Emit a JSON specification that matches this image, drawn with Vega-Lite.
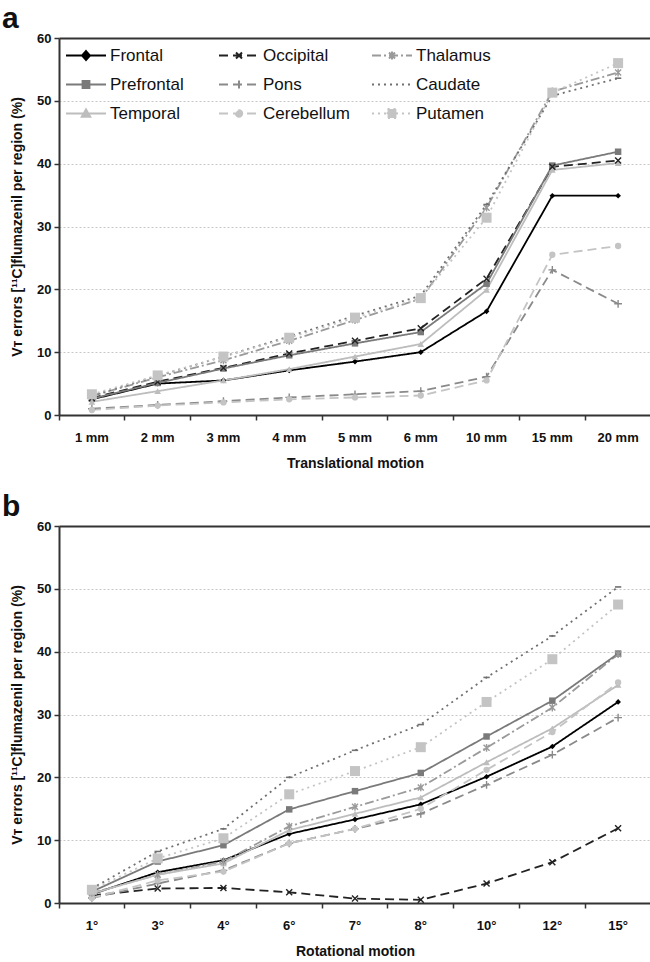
{
  "$schema": "https://vega.github.io/schema/vega-lite/v6.json",
  "padding": {"left": 2, "top": 4, "right": 0, "bottom": 0},
  "config": {
    "view": {"stroke": null},
    "font": "Liberation Sans",
    "axis": {
      "labelFont": "Liberation Sans", "labelFontWeight": "bold", "labelFontSize": 13, "labelColor": "#111",
      "titleFont": "Liberation Sans", "titleFontWeight": "bold", "titleFontSize": 14, "titleColor": "#111",
      "domainColor": "#333", "domainWidth": 2, "tickColor": "#333", "tickWidth": 1.5, "tickSize": 5
    },
    "legend": {"labelFont": "Liberation Sans", "labelFontSize": 17, "labelColor": "#111"}
  },
  "datasets": {
    "trans": [
      {"motion":"1 mm","region":"Frontal","value":2.5},{"motion":"2 mm","region":"Frontal","value":5.0},{"motion":"3 mm","region":"Frontal","value":5.5},{"motion":"4 mm","region":"Frontal","value":7.1},{"motion":"5 mm","region":"Frontal","value":8.5},{"motion":"6 mm","region":"Frontal","value":10.0},{"motion":"10 mm","region":"Frontal","value":16.5},{"motion":"15 mm","region":"Frontal","value":34.9},{"motion":"20 mm","region":"Frontal","value":34.9},
      {"motion":"1 mm","region":"Occipital","value":2.7},{"motion":"2 mm","region":"Occipital","value":5.3},{"motion":"3 mm","region":"Occipital","value":7.5},{"motion":"4 mm","region":"Occipital","value":9.8},{"motion":"5 mm","region":"Occipital","value":11.8},{"motion":"6 mm","region":"Occipital","value":13.8},{"motion":"10 mm","region":"Occipital","value":21.7},{"motion":"15 mm","region":"Occipital","value":39.5},{"motion":"20 mm","region":"Occipital","value":40.5},
      {"motion":"1 mm","region":"Thalamus","value":3.0},{"motion":"2 mm","region":"Thalamus","value":6.0},{"motion":"3 mm","region":"Thalamus","value":8.7},{"motion":"4 mm","region":"Thalamus","value":11.8},{"motion":"5 mm","region":"Thalamus","value":15.1},{"motion":"6 mm","region":"Thalamus","value":18.5},{"motion":"10 mm","region":"Thalamus","value":33.0},{"motion":"15 mm","region":"Thalamus","value":51.5},{"motion":"20 mm","region":"Thalamus","value":54.5},
      {"motion":"1 mm","region":"Prefrontal","value":2.6},{"motion":"2 mm","region":"Prefrontal","value":5.1},{"motion":"3 mm","region":"Prefrontal","value":7.4},{"motion":"4 mm","region":"Prefrontal","value":9.5},{"motion":"5 mm","region":"Prefrontal","value":11.4},{"motion":"6 mm","region":"Prefrontal","value":13.2},{"motion":"10 mm","region":"Prefrontal","value":20.9},{"motion":"15 mm","region":"Prefrontal","value":39.7},{"motion":"20 mm","region":"Prefrontal","value":41.9},
      {"motion":"1 mm","region":"Pons","value":1.0},{"motion":"2 mm","region":"Pons","value":1.6},{"motion":"3 mm","region":"Pons","value":2.2},{"motion":"4 mm","region":"Pons","value":2.8},{"motion":"5 mm","region":"Pons","value":3.3},{"motion":"6 mm","region":"Pons","value":3.8},{"motion":"10 mm","region":"Pons","value":6.1},{"motion":"15 mm","region":"Pons","value":23.1},{"motion":"20 mm","region":"Pons","value":17.7},
      {"motion":"1 mm","region":"Caudate","value":3.1},{"motion":"2 mm","region":"Caudate","value":6.2},{"motion":"3 mm","region":"Caudate","value":9.3},{"motion":"4 mm","region":"Caudate","value":12.5},{"motion":"5 mm","region":"Caudate","value":15.8},{"motion":"6 mm","region":"Caudate","value":19.0},{"motion":"10 mm","region":"Caudate","value":33.5},{"motion":"15 mm","region":"Caudate","value":50.8},{"motion":"20 mm","region":"Caudate","value":53.6},
      {"motion":"1 mm","region":"Temporal","value":2.1},{"motion":"2 mm","region":"Temporal","value":3.8},{"motion":"3 mm","region":"Temporal","value":5.5},{"motion":"4 mm","region":"Temporal","value":7.3},{"motion":"5 mm","region":"Temporal","value":9.3},{"motion":"6 mm","region":"Temporal","value":11.3},{"motion":"10 mm","region":"Temporal","value":19.9},{"motion":"15 mm","region":"Temporal","value":39.0},{"motion":"20 mm","region":"Temporal","value":40.1},
      {"motion":"1 mm","region":"Cerebellum","value":0.8},{"motion":"2 mm","region":"Cerebellum","value":1.5},{"motion":"3 mm","region":"Cerebellum","value":2.0},{"motion":"4 mm","region":"Cerebellum","value":2.5},{"motion":"5 mm","region":"Cerebellum","value":2.8},{"motion":"6 mm","region":"Cerebellum","value":3.1},{"motion":"10 mm","region":"Cerebellum","value":5.5},{"motion":"15 mm","region":"Cerebellum","value":25.5},{"motion":"20 mm","region":"Cerebellum","value":26.9},
      {"motion":"1 mm","region":"Putamen","value":3.3},{"motion":"2 mm","region":"Putamen","value":6.3},{"motion":"3 mm","region":"Putamen","value":9.3},{"motion":"4 mm","region":"Putamen","value":12.3},{"motion":"5 mm","region":"Putamen","value":15.5},{"motion":"6 mm","region":"Putamen","value":18.6},{"motion":"10 mm","region":"Putamen","value":31.4},{"motion":"15 mm","region":"Putamen","value":51.3},{"motion":"20 mm","region":"Putamen","value":56.0}
    ],
    "rot": [
      {"motion":"1°","region":"Frontal","value":1.4},{"motion":"3°","region":"Frontal","value":4.9},{"motion":"4°","region":"Frontal","value":6.8},{"motion":"6°","region":"Frontal","value":11.0},{"motion":"7°","region":"Frontal","value":13.3},{"motion":"8°","region":"Frontal","value":15.7},{"motion":"10°","region":"Frontal","value":20.1},{"motion":"12°","region":"Frontal","value":24.9},{"motion":"15°","region":"Frontal","value":32.0},
      {"motion":"1°","region":"Occipital","value":1.2},{"motion":"3°","region":"Occipital","value":2.3},{"motion":"4°","region":"Occipital","value":2.4},{"motion":"6°","region":"Occipital","value":1.7},{"motion":"7°","region":"Occipital","value":0.7},{"motion":"8°","region":"Occipital","value":0.5},{"motion":"10°","region":"Occipital","value":3.1},{"motion":"12°","region":"Occipital","value":6.5},{"motion":"15°","region":"Occipital","value":11.9},
      {"motion":"1°","region":"Thalamus","value":1.6},{"motion":"3°","region":"Thalamus","value":4.5},{"motion":"4°","region":"Thalamus","value":6.6},{"motion":"6°","region":"Thalamus","value":12.2},{"motion":"7°","region":"Thalamus","value":15.3},{"motion":"8°","region":"Thalamus","value":18.4},{"motion":"10°","region":"Thalamus","value":24.7},{"motion":"12°","region":"Thalamus","value":31.1},{"motion":"15°","region":"Thalamus","value":39.6},
      {"motion":"1°","region":"Prefrontal","value":1.8},{"motion":"3°","region":"Prefrontal","value":6.6},{"motion":"4°","region":"Prefrontal","value":9.2},{"motion":"6°","region":"Prefrontal","value":14.9},{"motion":"7°","region":"Prefrontal","value":17.8},{"motion":"8°","region":"Prefrontal","value":20.7},{"motion":"10°","region":"Prefrontal","value":26.5},{"motion":"12°","region":"Prefrontal","value":32.2},{"motion":"15°","region":"Prefrontal","value":39.7},
      {"motion":"1°","region":"Pons","value":0.8},{"motion":"3°","region":"Pons","value":3.1},{"motion":"4°","region":"Pons","value":5.2},{"motion":"6°","region":"Pons","value":9.5},{"motion":"7°","region":"Pons","value":11.8},{"motion":"8°","region":"Pons","value":14.2},{"motion":"10°","region":"Pons","value":18.8},{"motion":"12°","region":"Pons","value":23.6},{"motion":"15°","region":"Pons","value":29.5},
      {"motion":"1°","region":"Caudate","value":2.3},{"motion":"3°","region":"Caudate","value":8.2},{"motion":"4°","region":"Caudate","value":11.8},{"motion":"6°","region":"Caudate","value":20.0},{"motion":"7°","region":"Caudate","value":24.3},{"motion":"8°","region":"Caudate","value":28.4},{"motion":"10°","region":"Caudate","value":35.9},{"motion":"12°","region":"Caudate","value":42.5},{"motion":"15°","region":"Caudate","value":50.3},
      {"motion":"1°","region":"Temporal","value":1.5},{"motion":"3°","region":"Temporal","value":4.5},{"motion":"4°","region":"Temporal","value":6.3},{"motion":"6°","region":"Temporal","value":11.6},{"motion":"7°","region":"Temporal","value":14.2},{"motion":"8°","region":"Temporal","value":16.8},{"motion":"10°","region":"Temporal","value":22.4},{"motion":"12°","region":"Temporal","value":27.8},{"motion":"15°","region":"Temporal","value":34.7},
      {"motion":"1°","region":"Cerebellum","value":0.8},{"motion":"3°","region":"Cerebellum","value":3.6},{"motion":"4°","region":"Cerebellum","value":5.0},{"motion":"6°","region":"Cerebellum","value":9.5},{"motion":"7°","region":"Cerebellum","value":11.8},{"motion":"8°","region":"Cerebellum","value":15.0},{"motion":"10°","region":"Cerebellum","value":21.2},{"motion":"12°","region":"Cerebellum","value":27.2},{"motion":"15°","region":"Cerebellum","value":35.1},
      {"motion":"1°","region":"Putamen","value":2.1},{"motion":"3°","region":"Putamen","value":7.1},{"motion":"4°","region":"Putamen","value":10.3},{"motion":"6°","region":"Putamen","value":17.3},{"motion":"7°","region":"Putamen","value":21.0},{"motion":"8°","region":"Putamen","value":24.8},{"motion":"10°","region":"Putamen","value":32.0},{"motion":"12°","region":"Putamen","value":38.8},{"motion":"15°","region":"Putamen","value":47.5}
    ]
  },
  "vconcat": [
    {
      "title": {"text": "a", "anchor": "start", "frame": "group", "font": "Liberation Sans", "fontSize": 30, "fontWeight": "bold", "color": "#111", "dx": -57, "dy": 4, "offset": 2},
      "width": 592,
      "height": 377,
      "data": {"name": "trans"},
      "resolve": {"axis": {"x": "independent"}},
      "layer": [
        {
          "mark": {"type": "line", "strokeWidth": 1.8},
          "encoding": {
            "x": {"field": "motion", "type": "ordinal", "sort": ["1 mm","2 mm","3 mm","4 mm","5 mm","6 mm","10 mm","15 mm","20 mm"],
              "scale": {"type": "band", "paddingInner": 0, "paddingOuter": 0},
              "axis": {"orient": "bottom", "labels": false, "title": null, "bandPosition": 0, "ticks": true, "domain": true, "grid": false, "tickSize": 5}},
            "y": {"field": "value", "type": "quantitative", "scale": {"domain": [0, 60], "nice": false},
              "axis": {"values": [0,10,20,30,40,50,60], "title": "Vᴛ errors [¹¹C]flumazenil per region (%)", "titlePadding": 12, "labelPadding": 3, "grid": true,
                "gridColor": {"condition": {"test": "datum.value >= 60", "value": "#333"}, "value": "#c8c8c8"},
                "gridDash": {"condition": {"test": "datum.value >= 60", "value": []}, "value": [2, 2]},
                "gridWidth": {"condition": {"test": "datum.value >= 60", "value": 2}, "value": 1}}},
            "color": {"field": "region", "type": "nominal",
              "scale": {"domain": ["Frontal","Prefrontal","Temporal","Occipital","Pons","Cerebellum","Thalamus","Caudate","Putamen"],
                "range": ["#000000","#7a7a7a","#bdbdbd","#222222","#8a8a8a","#c4c4c4","#9a9a9a","#707070","#c4c4c4"]},
              "legend": {"title": null, "orient": "none", "legendX": 6, "legendY": 3, "columns": 3, "gridAlign": "all", "columnPadding": 21, "rowPadding": 0, "clipHeight": 29, "symbolSize": 1600, "symbolStrokeWidth": 2, "labelOffset": 3, "labelFontSize": 17,
                "encode": {"symbols": {"update": {
                  "size": {"value": 1600},
                  "strokeWidth": {"value": 2},
                  "shape": {"signal": "datum.value==='Frontal'?'M-1,0H1M0,-0.22L0.2,0L0,0.22L-0.2,0Z':datum.value==='Prefrontal'?'M-1,0H1M-0.17,-0.17H0.17V0.17H-0.17Z':datum.value==='Temporal'?'M-1,0H1M0,-0.2L0.21,0.16L-0.21,0.16Z':datum.value==='Occipital'?'M-1,0H1M-0.15,-0.15L0.15,0.15M-0.15,0.15L0.15,-0.15':datum.value==='Pons'?'M-1,0H1M0,-0.2V0.2':datum.value==='Cerebellum'?'M-1,0H1M0.16,0A0.16,0.16 0 1,1 -0.16,0A0.16,0.16 0 1,1 0.16,0Z':datum.value==='Thalamus'?'M-1,0H1M-0.15,-0.15L0.15,0.15M-0.15,0.15L0.15,-0.15M0,-0.2V0.2':datum.value==='Putamen'?'M-1,0H1M-0.22,-0.22H0.22V0.22H-0.22Z':'M-1,0H1'"},
                  "stroke": {"signal": "datum.value==='Frontal'?'#000000':datum.value==='Prefrontal'?'#7a7a7a':datum.value==='Temporal'?'#bdbdbd':datum.value==='Occipital'?'#222222':datum.value==='Pons'?'#8a8a8a':datum.value==='Cerebellum'?'#c4c4c4':datum.value==='Thalamus'?'#9a9a9a':datum.value==='Caudate'?'#707070':'#c4c4c4'"},
                  "strokeDash": {"signal": "(datum.value==='Occipital'||datum.value==='Pons'||datum.value==='Cerebellum')?[7,4]:datum.value==='Thalamus'?[7,3,2,3]:(datum.value==='Caudate'||datum.value==='Putamen')?[2,4]:[1,0]"},
                  "fill": {"signal": "datum.value==='Frontal'?'#000000':datum.value==='Prefrontal'?'#7a7a7a':datum.value==='Temporal'?'#bdbdbd':datum.value==='Cerebellum'?'#c4c4c4':datum.value==='Putamen'?'#c4c4c4':'transparent'"},
                  "fillOpacity": {"value": 1},
                  "opacity": {"value": 1}
                }}}}},
            "strokeDash": {"field": "region", "type": "nominal",
              "scale": {"domain": ["Frontal","Prefrontal","Temporal","Occipital","Pons","Cerebellum","Thalamus","Caudate","Putamen"],
                "range": [[1,0],[1,0],[1,0],[9,5],[9,5],[9,5],[9,3,2,3],[2,4],[2,4]]},
              "legend": {"title": null}}
          }
        },
        {"transform": [{"filter": {"field": "region", "equal": "Frontal"}}],
         "mark": {"type": "point", "shape": "diamond", "filled": true, "size": 32, "opacity": 1},
         "encoding": {"x": {"field": "motion", "type": "ordinal", "sort": ["1 mm","2 mm","3 mm","4 mm","5 mm","6 mm","10 mm","15 mm","20 mm"],
              "axis": {"orient": "bottom", "ticks": false, "domain": false, "labelAngle": 0, "labelPadding": 16, "title": "Translational motion", "titlePadding": 12, "grid": false}},
           "y": {"field": "value", "type": "quantitative"}, "color": {"field": "region", "type": "nominal", "legend": null}}},
        {"transform": [{"filter": {"field": "region", "equal": "Prefrontal"}}],
         "mark": {"type": "point", "shape": "square", "filled": true, "size": 42, "opacity": 1},
         "encoding": {"x": {"field": "motion", "type": "ordinal", "sort": ["1 mm","2 mm","3 mm","4 mm","5 mm","6 mm","10 mm","15 mm","20 mm"], "axis": null},
           "y": {"field": "value", "type": "quantitative"}, "color": {"field": "region", "type": "nominal", "legend": null}}},
        {"transform": [{"filter": {"field": "region", "equal": "Temporal"}}],
         "mark": {"type": "point", "shape": "triangle-up", "filled": true, "size": 45, "opacity": 1},
         "encoding": {"x": {"field": "motion", "type": "ordinal", "sort": ["1 mm","2 mm","3 mm","4 mm","5 mm","6 mm","10 mm","15 mm","20 mm"], "axis": null},
           "y": {"field": "value", "type": "quantitative"}, "color": {"field": "region", "type": "nominal", "legend": null}}},
        {"transform": [{"filter": {"field": "region", "equal": "Occipital"}}],
         "mark": {"type": "point", "shape": "M-1,-1L1,1M-1,1L1,-1", "filled": false, "size": 36, "strokeWidth": 1.4, "opacity": 1},
         "encoding": {"x": {"field": "motion", "type": "ordinal", "sort": ["1 mm","2 mm","3 mm","4 mm","5 mm","6 mm","10 mm","15 mm","20 mm"], "axis": null},
           "y": {"field": "value", "type": "quantitative"}, "color": {"field": "region", "type": "nominal", "legend": null}}},
        {"transform": [{"filter": {"field": "region", "equal": "Pons"}}],
         "mark": {"type": "point", "shape": "M-1,0H1M0,-1V1", "filled": false, "size": 60, "strokeWidth": 1.4, "opacity": 1},
         "encoding": {"x": {"field": "motion", "type": "ordinal", "sort": ["1 mm","2 mm","3 mm","4 mm","5 mm","6 mm","10 mm","15 mm","20 mm"], "axis": null},
           "y": {"field": "value", "type": "quantitative"}, "color": {"field": "region", "type": "nominal", "legend": null}}},
        {"transform": [{"filter": {"field": "region", "equal": "Cerebellum"}}],
         "mark": {"type": "point", "shape": "circle", "filled": true, "size": 40, "opacity": 1},
         "encoding": {"x": {"field": "motion", "type": "ordinal", "sort": ["1 mm","2 mm","3 mm","4 mm","5 mm","6 mm","10 mm","15 mm","20 mm"], "axis": null},
           "y": {"field": "value", "type": "quantitative"}, "color": {"field": "region", "type": "nominal", "legend": null}}},
        {"transform": [{"filter": {"field": "region", "equal": "Thalamus"}}],
         "mark": {"type": "point", "shape": "M-1,-1L1,1M-1,1L1,-1M0,-1.3V1.3", "filled": false, "size": 36, "strokeWidth": 1.4, "opacity": 1},
         "encoding": {"x": {"field": "motion", "type": "ordinal", "sort": ["1 mm","2 mm","3 mm","4 mm","5 mm","6 mm","10 mm","15 mm","20 mm"], "axis": null},
           "y": {"field": "value", "type": "quantitative"}, "color": {"field": "region", "type": "nominal", "legend": null}}},
        {"transform": [{"filter": {"field": "region", "equal": "Caudate"}}],
         "mark": {"type": "point", "shape": "M-1,0H1", "filled": false, "size": 40, "strokeWidth": 1.6, "opacity": 1},
         "encoding": {"x": {"field": "motion", "type": "ordinal", "sort": ["1 mm","2 mm","3 mm","4 mm","5 mm","6 mm","10 mm","15 mm","20 mm"], "axis": null},
           "y": {"field": "value", "type": "quantitative"}, "color": {"field": "region", "type": "nominal", "legend": null}}},
        {"transform": [{"filter": {"field": "region", "equal": "Putamen"}}],
         "mark": {"type": "point", "shape": "square", "filled": true, "size": 100, "opacity": 1},
         "encoding": {"x": {"field": "motion", "type": "ordinal", "sort": ["1 mm","2 mm","3 mm","4 mm","5 mm","6 mm","10 mm","15 mm","20 mm"], "axis": null},
           "y": {"field": "value", "type": "quantitative"}, "color": {"field": "region", "type": "nominal", "legend": null}}}
      ]
    },
    {
      "title": {"text": "b", "anchor": "start", "frame": "group", "font": "Liberation Sans", "fontSize": 30, "fontWeight": "bold", "color": "#111", "dx": -57, "dy": 4, "offset": 2},
      "width": 592,
      "height": 377,
      "data": {"name": "rot"},
      "resolve": {"axis": {"x": "independent"}},
      "layer": [
        {
          "mark": {"type": "line", "strokeWidth": 1.8},
          "encoding": {
            "x": {"field": "motion", "type": "ordinal", "sort": ["1°","3°","4°","6°","7°","8°","10°","12°","15°"],
              "scale": {"type": "band", "paddingInner": 0, "paddingOuter": 0},
              "axis": {"orient": "bottom", "labels": false, "title": null, "bandPosition": 0, "ticks": true, "domain": true, "grid": false, "tickSize": 5}},
            "y": {"field": "value", "type": "quantitative", "scale": {"domain": [0, 60], "nice": false},
              "axis": {"values": [0,10,20,30,40,50,60], "title": "Vᴛ errors [¹¹C]flumazenil per region (%)", "titlePadding": 12, "labelPadding": 3, "grid": true,
                "gridColor": {"condition": {"test": "datum.value >= 60", "value": "#333"}, "value": "#c8c8c8"},
                "gridDash": {"condition": {"test": "datum.value >= 60", "value": []}, "value": [2, 2]},
                "gridWidth": {"condition": {"test": "datum.value >= 60", "value": 2}, "value": 1}}},
            "color": {"field": "region", "type": "nominal"},
            "strokeDash": {"field": "region", "type": "nominal"}
          }
        },
        {"transform": [{"filter": {"field": "region", "equal": "Frontal"}}],
         "mark": {"type": "point", "shape": "diamond", "filled": true, "size": 32, "opacity": 1},
         "encoding": {"x": {"field": "motion", "type": "ordinal", "sort": ["1°","3°","4°","6°","7°","8°","10°","12°","15°"],
              "axis": {"orient": "bottom", "ticks": false, "domain": false, "labelAngle": 0, "labelPadding": 16, "title": "Rotational motion", "titlePadding": 12, "grid": false}},
           "y": {"field": "value", "type": "quantitative"}, "color": {"field": "region", "type": "nominal", "legend": null}}},
        {"transform": [{"filter": {"field": "region", "equal": "Prefrontal"}}],
         "mark": {"type": "point", "shape": "square", "filled": true, "size": 42, "opacity": 1},
         "encoding": {"x": {"field": "motion", "type": "ordinal", "sort": ["1°","3°","4°","6°","7°","8°","10°","12°","15°"], "axis": null},
           "y": {"field": "value", "type": "quantitative"}, "color": {"field": "region", "type": "nominal", "legend": null}}},
        {"transform": [{"filter": {"field": "region", "equal": "Temporal"}}],
         "mark": {"type": "point", "shape": "triangle-up", "filled": true, "size": 45, "opacity": 1},
         "encoding": {"x": {"field": "motion", "type": "ordinal", "sort": ["1°","3°","4°","6°","7°","8°","10°","12°","15°"], "axis": null},
           "y": {"field": "value", "type": "quantitative"}, "color": {"field": "region", "type": "nominal", "legend": null}}},
        {"transform": [{"filter": {"field": "region", "equal": "Occipital"}}],
         "mark": {"type": "point", "shape": "M-1,-1L1,1M-1,1L1,-1", "filled": false, "size": 36, "strokeWidth": 1.4, "opacity": 1},
         "encoding": {"x": {"field": "motion", "type": "ordinal", "sort": ["1°","3°","4°","6°","7°","8°","10°","12°","15°"], "axis": null},
           "y": {"field": "value", "type": "quantitative"}, "color": {"field": "region", "type": "nominal", "legend": null}}},
        {"transform": [{"filter": {"field": "region", "equal": "Pons"}}],
         "mark": {"type": "point", "shape": "M-1,0H1M0,-1V1", "filled": false, "size": 60, "strokeWidth": 1.4, "opacity": 1},
         "encoding": {"x": {"field": "motion", "type": "ordinal", "sort": ["1°","3°","4°","6°","7°","8°","10°","12°","15°"], "axis": null},
           "y": {"field": "value", "type": "quantitative"}, "color": {"field": "region", "type": "nominal", "legend": null}}},
        {"transform": [{"filter": {"field": "region", "equal": "Cerebellum"}}],
         "mark": {"type": "point", "shape": "circle", "filled": true, "size": 40, "opacity": 1},
         "encoding": {"x": {"field": "motion", "type": "ordinal", "sort": ["1°","3°","4°","6°","7°","8°","10°","12°","15°"], "axis": null},
           "y": {"field": "value", "type": "quantitative"}, "color": {"field": "region", "type": "nominal", "legend": null}}},
        {"transform": [{"filter": {"field": "region", "equal": "Thalamus"}}],
         "mark": {"type": "point", "shape": "M-1,-1L1,1M-1,1L1,-1M0,-1.3V1.3", "filled": false, "size": 36, "strokeWidth": 1.4, "opacity": 1},
         "encoding": {"x": {"field": "motion", "type": "ordinal", "sort": ["1°","3°","4°","6°","7°","8°","10°","12°","15°"], "axis": null},
           "y": {"field": "value", "type": "quantitative"}, "color": {"field": "region", "type": "nominal", "legend": null}}},
        {"transform": [{"filter": {"field": "region", "equal": "Caudate"}}],
         "mark": {"type": "point", "shape": "M-1,0H1", "filled": false, "size": 40, "strokeWidth": 1.6, "opacity": 1},
         "encoding": {"x": {"field": "motion", "type": "ordinal", "sort": ["1°","3°","4°","6°","7°","8°","10°","12°","15°"], "axis": null},
           "y": {"field": "value", "type": "quantitative"}, "color": {"field": "region", "type": "nominal", "legend": null}}},
        {"transform": [{"filter": {"field": "region", "equal": "Putamen"}}],
         "mark": {"type": "point", "shape": "square", "filled": true, "size": 100, "opacity": 1},
         "encoding": {"x": {"field": "motion", "type": "ordinal", "sort": ["1°","3°","4°","6°","7°","8°","10°","12°","15°"], "axis": null},
           "y": {"field": "value", "type": "quantitative"}, "color": {"field": "region", "type": "nominal", "legend": null}}}
      ]
    }
  ],
  "spacing": 22,
  "resolve": {"scale": {"x": "independent"}}
}
